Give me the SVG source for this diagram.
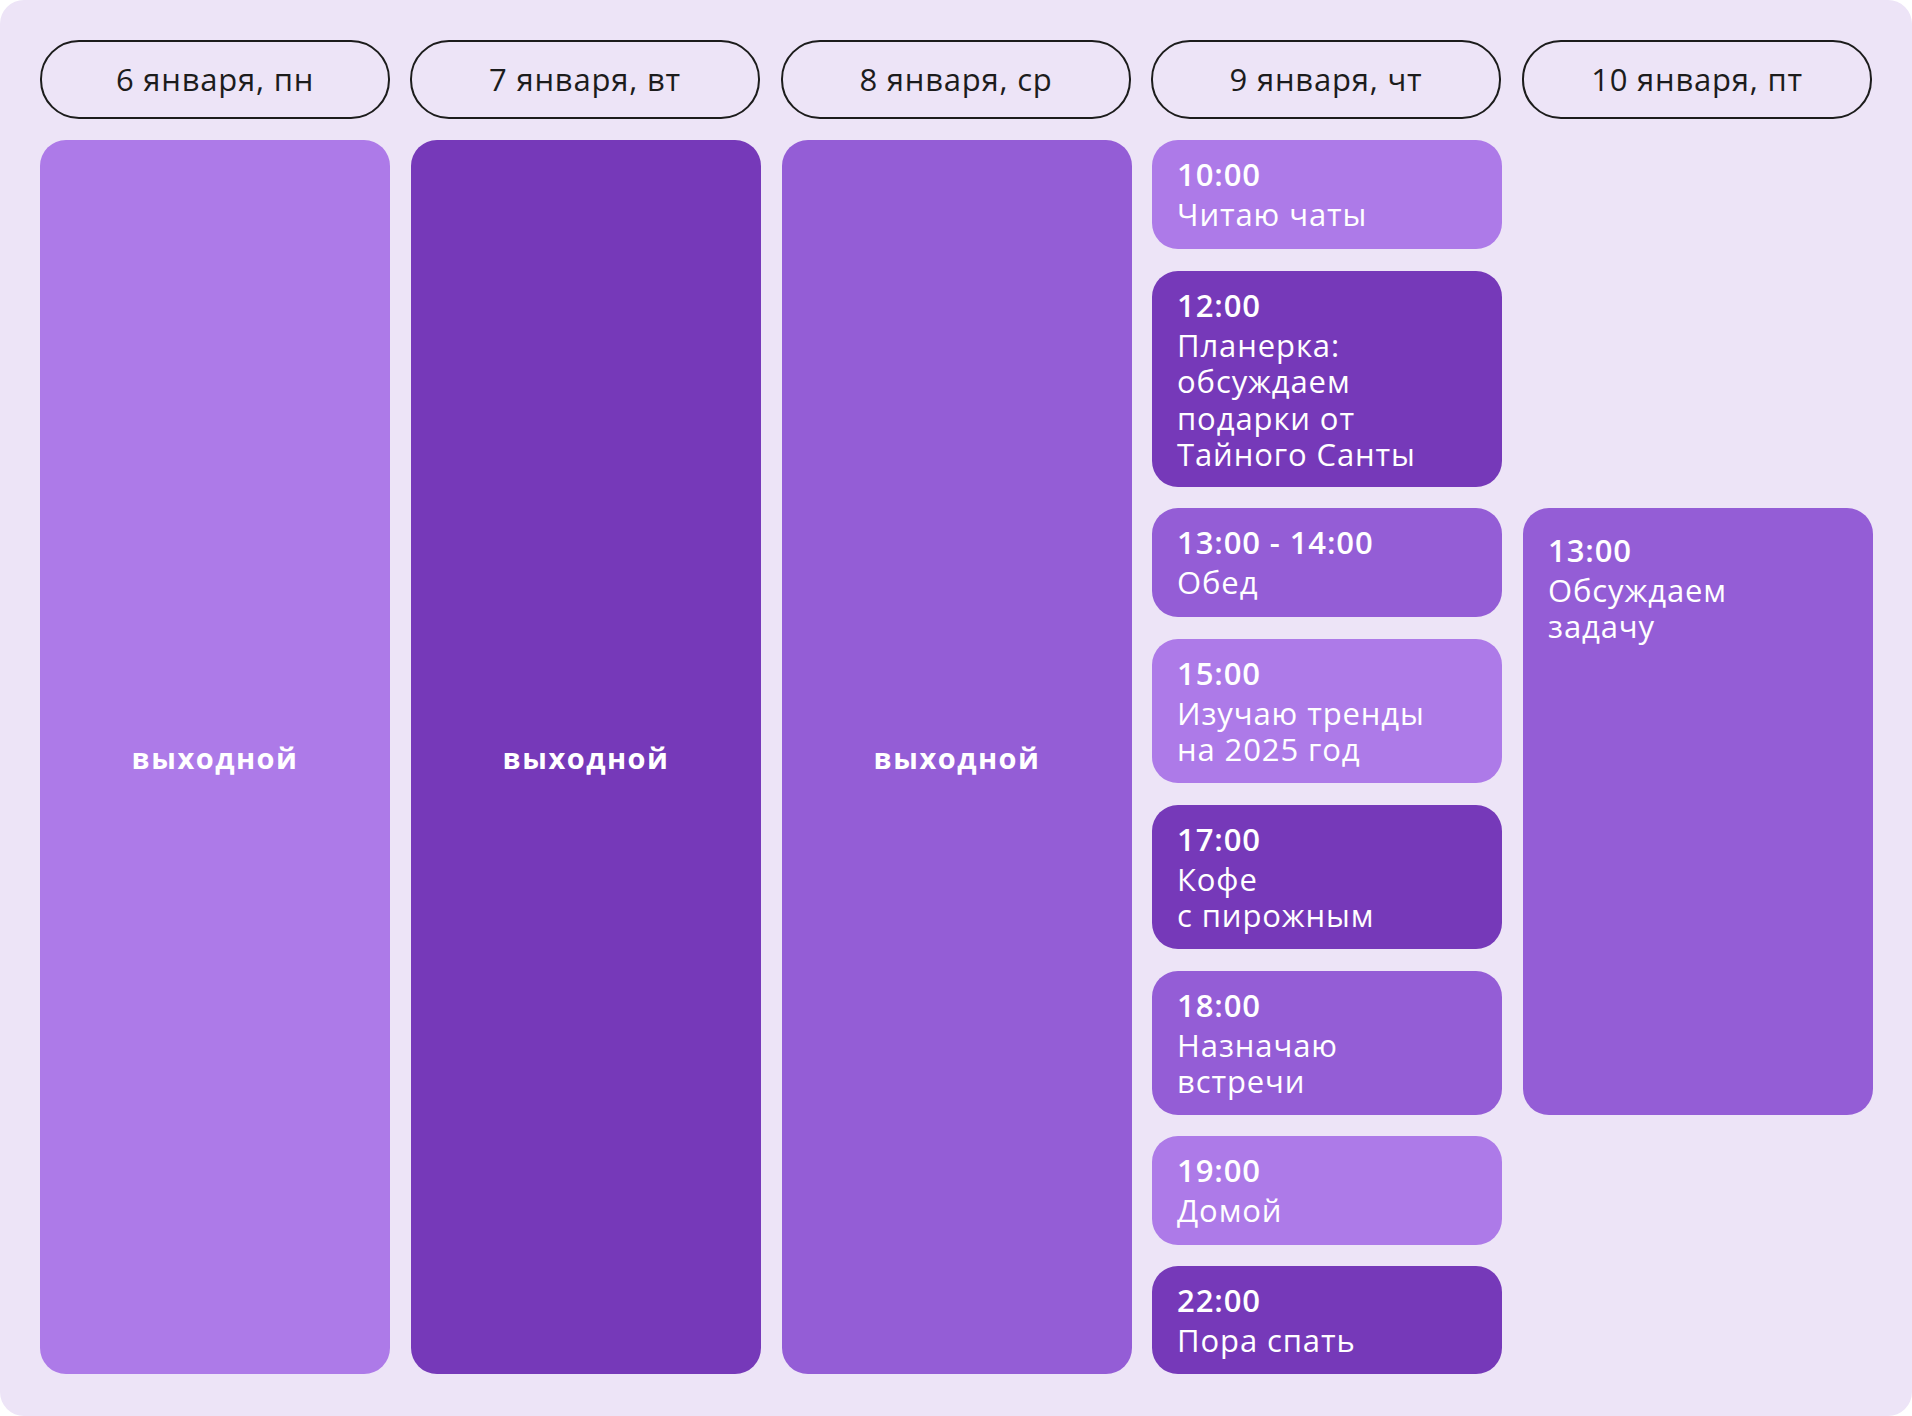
<svg xmlns="http://www.w3.org/2000/svg" width="1912" height="1416" viewBox="0 0 1912 1416">
<style>
.hd{fill:none;stroke:#1c1c1c;stroke-width:2}
.ht{font-family:"Open Sans","Noto Sans",sans-serif;font-size:31px;fill:#1c1c1c;text-anchor:middle;letter-spacing:0.8px}
.l{fill:#ad7ae8}.d{fill:#7639b9}.m{fill:#945dd6}
.t{font-family:"Open Sans","Noto Sans",sans-serif;font-size:31px;fill:#fff;letter-spacing:0.9px}
.b{font-weight:600}
.off{font-family:"Open Sans","Noto Sans",sans-serif;font-size:29px;font-weight:700;fill:#fff;text-anchor:middle;letter-spacing:1.5px}
</style>
<rect width="1912" height="1416" rx="24" fill="#ede4f7"/>
<g id="headers">
<g id="h1"><rect class="hd" x="41" y="41" width="348" height="77" rx="38"/><text class="ht" x="215" y="91">6 января, пн</text></g>
<g id="h2"><rect class="hd" x="411" y="41" width="348" height="77" rx="38"/><text class="ht" x="585" y="91">7 января, вт</text></g>
<g id="h3"><rect class="hd" x="782" y="41" width="348" height="77" rx="38"/><text class="ht" x="956" y="91">8 января, ср</text></g>
<g id="h4"><rect class="hd" x="1152" y="41" width="348" height="77" rx="38"/><text class="ht" x="1326" y="91">9 января, чт</text></g>
<g id="h5"><rect class="hd" x="1523" y="41" width="348" height="77" rx="38"/><text class="ht" x="1697" y="91">10 января, пт</text></g>
</g>
<g id="mon"><rect class="l" x="40" y="140" width="350" height="1234" rx="26"/><text class="off" x="215" y="769">выходной</text></g>
<g id="tue"><rect class="d" x="411" y="140" width="350" height="1234" rx="26"/><text class="off" x="586" y="769">выходной</text></g>
<g id="wed"><rect class="m" x="782" y="140" width="350" height="1234" rx="26"/><text class="off" x="957" y="769">выходной</text></g>
<g id="e1"><rect class="l" x="1152" y="140" width="350" height="109" rx="26"/><text class="t" x="1177"><tspan class="b" y="186">10:00</tspan><tspan x="1177" y="226">Читаю чаты</tspan></text></g>
<g id="e2"><rect class="d" x="1152" y="271" width="350" height="216" rx="26"/><text class="t" x="1177"><tspan class="b" y="317">12:00</tspan><tspan x="1177" y="357">Планерка:</tspan><tspan x="1177" y="393">обсуждаем</tspan><tspan x="1177" y="430">подарки от</tspan><tspan x="1177" y="466">Тайного Санты</tspan></text></g>
<g id="e3"><rect class="m" x="1152" y="508" width="350" height="109" rx="26"/><text class="t" x="1177"><tspan class="b" y="554">13:00 - 14:00</tspan><tspan x="1177" y="594">Обед</tspan></text></g>
<g id="e4"><rect class="l" x="1152" y="639" width="350" height="144" rx="26"/><text class="t" x="1177"><tspan class="b" y="685">15:00</tspan><tspan x="1177" y="725">Изучаю тренды</tspan><tspan x="1177" y="761">на 2025 год</tspan></text></g>
<g id="e5"><rect class="d" x="1152" y="805" width="350" height="144" rx="26"/><text class="t" x="1177"><tspan class="b" y="851">17:00</tspan><tspan x="1177" y="891">Кофе</tspan><tspan x="1177" y="927">с пирожным</tspan></text></g>
<g id="e6"><rect class="m" x="1152" y="971" width="350" height="144" rx="26"/><text class="t" x="1177"><tspan class="b" y="1017">18:00</tspan><tspan x="1177" y="1057">Назначаю</tspan><tspan x="1177" y="1093">встречи</tspan></text></g>
<g id="e7"><rect class="l" x="1152" y="1136" width="350" height="109" rx="26"/><text class="t" x="1177"><tspan class="b" y="1182">19:00</tspan><tspan x="1177" y="1222">Домой</tspan></text></g>
<g id="e8"><rect class="d" x="1152" y="1266" width="350" height="108" rx="26"/><text class="t" x="1177"><tspan class="b" y="1312">22:00</tspan><tspan x="1177" y="1352">Пора спать</tspan></text></g>
<g id="f1"><rect class="m" x="1523" y="508" width="350" height="607" rx="26"/><text class="t" x="1548"><tspan class="b" y="562">13:00</tspan><tspan x="1548" y="602">Обсуждаем</tspan><tspan x="1548" y="638">задачу</tspan></text></g>
<g id="connectors"/>
</svg>
